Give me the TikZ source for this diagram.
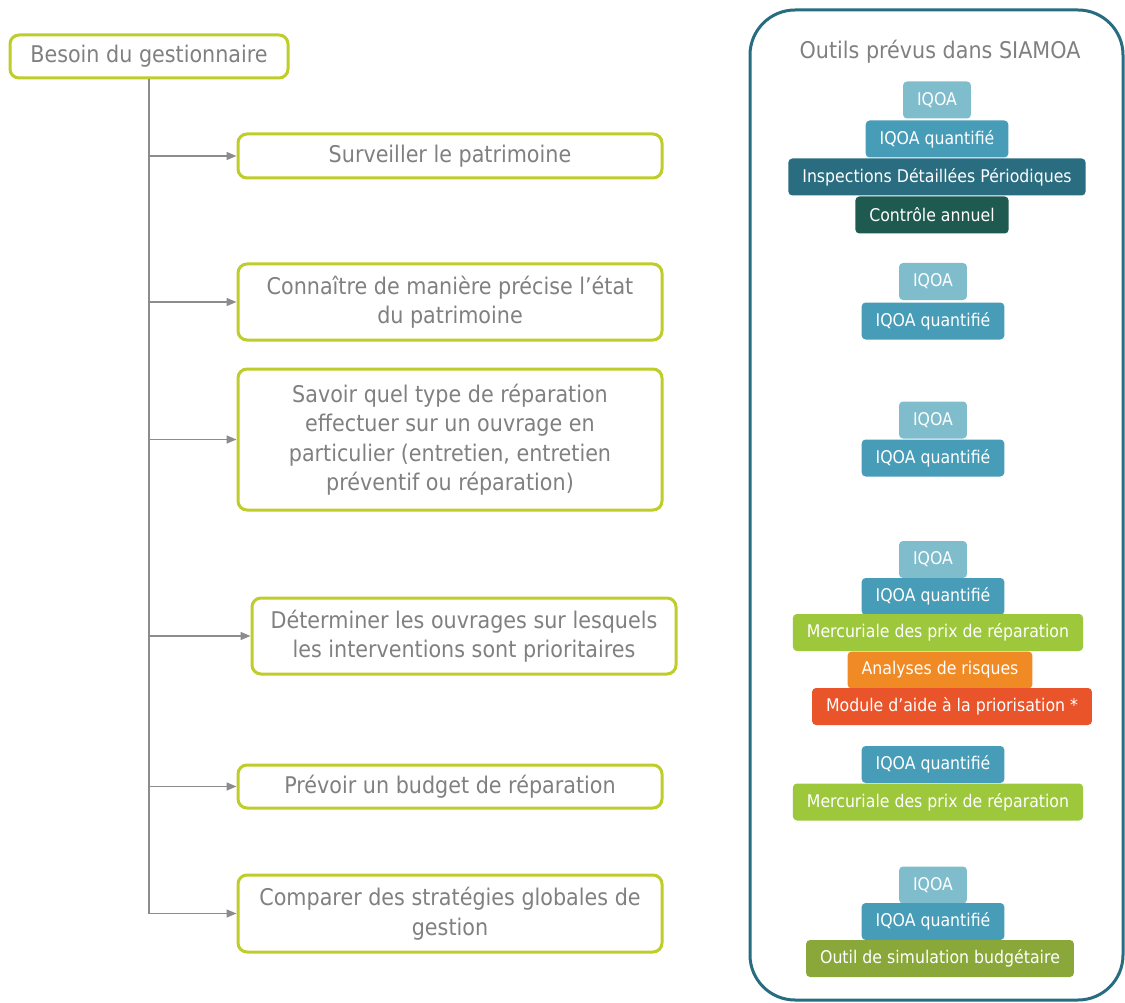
\documentclass[tikz,border=0pt]{standalone}
\usepackage{fontspec}
\setmainfont{DejaVu Sans}[FakeStretch=0.9]
\usetikzlibrary{arrows.meta}

\definecolor{vertbord}{RGB}{190,205,42}
\definecolor{textegris}{RGB}{128,128,128}
\definecolor{traitgris}{RGB}{140,140,140}
\definecolor{bordpanneau}{RGB}{40,108,128}
\definecolor{iqoaclair}{RGB}{127,189,205}
\definecolor{iqoaquant}{RGB}{71,157,184}
\definecolor{inspection}{RGB}{42,108,128}
\definecolor{controle}{RGB}{31,90,80}
\definecolor{mercuriale}{RGB}{157,200,59}
\definecolor{risques}{RGB}{240,138,36}
\definecolor{module}{RGB}{233,84,43}
\definecolor{simulation}{RGB}{138,168,58}

\begin{document}
\begin{tikzpicture}[x=1pt, y=-1pt,
	besoin/.style={draw=vertbord, line width=3pt, rounded corners=9pt, fill=white, text=textegris,
		font=\fontsize{23}{29.5}\selectfont, align=center, minimum width=424pt, inner sep=0pt},
	fleche/.style={draw=traitgris, line width=1.5pt, -{Triangle[length=10pt,width=8pt]}},
	outil/.style={rounded corners=4pt, text=white, font=\fontsize{17.5}{20}\selectfont,
		minimum height=37pt, inner xsep=14pt, inner ysep=0pt}]

	\useasboundingbox (0,0) rectangle (1125,1003);

	\node[besoin, minimum width=278pt, minimum height=43pt] (racine) at (149,56.5) {Besoin du gestionnaire};

	\node[besoin, minimum height=44pt] (b1) at (450,156) {Surveiller le patrimoine};
	\node[besoin, minimum height=76pt] (b2) at (450,302) {Connaître de manière précise l’état\\du patrimoine};
	\node[besoin, minimum height=141pt] (b3) at (450,439.5) {Savoir quel type de réparation\\effectuer sur un ouvrage en\\particulier (entretien, entretien\\préventif ou réparation)};
	\node[besoin, minimum height=76pt] (b4) at (464,636) {Déterminer les ouvrages sur lesquels\\les interventions sont prioritaires};
	\node[besoin, minimum height=43pt] (b5) at (450,786.5) {Prévoir un budget de réparation};
	\node[besoin, minimum height=77pt] (b6) at (450,913.5) {Comparer des stratégies globales de\\gestion};

	\draw[fleche] (racine.south) |- (b1.west);
	\draw[fleche] (racine.south) |- (b2.west);
	\draw[fleche] (racine.south) |- (b3.west);
	\draw[fleche] (racine.south) |- (b4.west);
	\draw[fleche] (racine.south) |- (b5.west);
	\draw[fleche] (racine.south) |- (b6.west);

	\node[draw=bordpanneau, line width=3pt, rounded corners=45pt, minimum width=373pt, minimum height=990pt] (outils) at (936.5,505) {};
	\node[text=textegris, font=\fontsize{23}{28}\selectfont] (titre) at (940,52) {Outils prévus dans SIAMOA};

	\node[outil, fill=iqoaclair] (o1a) at (937,100) {IQOA};
	\node[outil, fill=iqoaquant] (o1b) at (937,139) {IQOA quantifié};
	\node[outil, fill=inspection] (o1c) at (937,177) {Inspections Détaillées Périodiques};
	\node[outil, fill=controle] (o1d) at (932,215) {Contrôle annuel};

	\node[outil, fill=iqoaclair] (o2a) at (933,281.5) {IQOA};
	\node[outil, fill=iqoaquant] (o2b) at (933,321) {IQOA quantifié};

	\node[outil, fill=iqoaclair] (o3a) at (933,420) {IQOA};
	\node[outil, fill=iqoaquant] (o3b) at (933,458) {IQOA quantifié};

	\node[outil, fill=iqoaclair] (o4a) at (933,559.5) {IQOA};
	\node[outil, fill=iqoaquant] (o4b) at (933,596.5) {IQOA quantifié};
	\node[outil, fill=mercuriale] (o4c) at (938,632.5) {Mercuriale des prix de réparation};
	\node[outil, fill=risques] (o4d) at (940,670) {Analyses de risques};
	\node[outil, fill=module] (o4e) at (952,706.5) {Module d’aide à la priorisation *};

	\node[outil, fill=iqoaquant] (o5a) at (933,764.5) {IQOA quantifié};
	\node[outil, fill=mercuriale] (o5b) at (938,802) {Mercuriale des prix de réparation};

	\node[outil, fill=iqoaclair] (o6a) at (933,885) {IQOA};
	\node[outil, fill=iqoaquant] (o6b) at (933,921.5) {IQOA quantifié};
	\node[outil, fill=simulation] (o6c) at (940,958.5) {Outil de simulation budgétaire};
\end{tikzpicture}
\end{document}
